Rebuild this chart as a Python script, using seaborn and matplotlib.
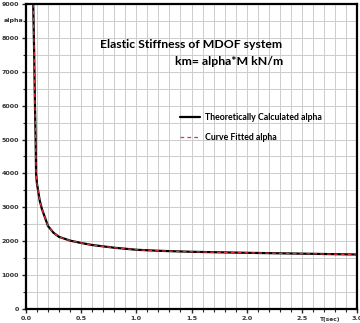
import matplotlib
matplotlib.use("Agg")
import matplotlib.pyplot as plt
import seaborn as sns
import numpy as np
import pandas as pd
from matplotlib.ticker import MultipleLocator

# Data
period = [0.066, 0.075, 0.082, 0.088, 0.092, 0.10, 0.11, 0.125, 0.145, 0.20, 0.25, 0.30,
          0.40, 0.50, 0.60, 0.80, 1.00, 1.20, 1.50, 2.00, 2.50, 3.00]
alpha_theory = [9000, 7500, 6000, 5000, 4000, 3700, 3500, 3200, 2950, 2450, 2250, 2130,
                2020, 1950, 1890, 1810, 1750, 1720, 1690, 1660, 1635, 1610]
alpha_fitted = [9000, 7500, 6000, 5000, 4000, 3700, 3500, 3200, 2950, 2450, 2250, 2130,
                2020, 1950, 1890, 1810, 1750, 1720, 1690, 1660, 1635, 1610]
x_ticks = [0.0, 0.5, 1.0, 1.5, 2.0, 2.5, 3.0]
y_ticks = [0, 1000, 2000, 3000, 4000, 5000, 6000, 7000, 8000, 9000]
title_1 = "Elastic Stiffness of MDOF system"
title_2 = "km= alpha*M kN/m"
series_names = ["Theoretically Calculated alpha", "Curve Fitted alpha"]

df = pd.DataFrame({
    "T": period * 2,
    "alpha": alpha_theory + alpha_fitted,
    "series": [series_names[0]] * len(period) + [series_names[1]] * len(period),
})

sns.set_style("white")
plt.rcParams['font.family'] = ['Lato', 'DejaVu Sans']

fig = plt.figure(figsize=(3.6, 3.23), dpi=100)
ax = fig.add_axes([0.072, 0.043, 0.92, 0.945])

ax.set_xlim(0, 3)
ax.set_ylim(0, 9000)
ax.xaxis.set_minor_locator(MultipleLocator(0.1))
ax.yaxis.set_minor_locator(MultipleLocator(500))
ax.grid(True, which="both", color="#cccccc", linewidth=0.7)
ax.set_axisbelow(True)

sns.lineplot(data=df[df.series == series_names[0]], x="T", y="alpha", ax=ax,
             color="black", linewidth=1.6, label=series_names[0])
sns.lineplot(data=df[df.series == series_names[1]], x="T", y="alpha", ax=ax,
             color="#e8343a", linewidth=0.9, linestyle=(0, (3, 2.5)),
             label=series_names[1])

tick_font = dict(fontsize=4.6, fontweight="bold", color="#333333", family="DejaVu Sans")
ax.set_xticks(x_ticks)
ax.set_yticks(y_ticks)
ax.set_xticklabels([f"{v:.1f}" for v in x_ticks], **tick_font)
ax.set_yticklabels([str(v) for v in y_ticks], **tick_font)
ax.tick_params(which="major", direction="out", length=3, width=1, pad=2, left=True, bottom=True)
ax.tick_params(which="minor", direction="out", length=2, width=0.8, left=True, bottom=True)
ax.set_xlabel("")
ax.set_ylabel("")
for s in ax.spines.values():
    s.set_color("black")
    s.set_linewidth(1.6)

ax.text(-0.02, 8500, "alpha", ha="right", va="center", clip_on=False, **tick_font)
ax.text(2.76, -230, "T(sec)", ha="center", va="top", clip_on=False,
        fontsize=4.2, fontweight="bold", color="#333333", family="DejaVu Sans")

ax.text(1.5, 7800, title_1, ha="center", va="center", fontsize=8.8,
        fontweight="bold", color="black")
ax.text(2.33, 7290, title_2, ha="right", va="center", fontsize=8.8,
        fontweight="bold", color="black")

leg = ax.legend(loc="upper left", bbox_to_anchor=(0.455, 0.655), frameon=False,
                fontsize=6.3, handlelength=2.3, handletextpad=0.5,
                labelspacing=1.35, borderaxespad=0)
for t in leg.get_texts():
    t.set_fontweight("bold")
    t.set_color("black")

fig.savefig("out.png", dpi=100)
